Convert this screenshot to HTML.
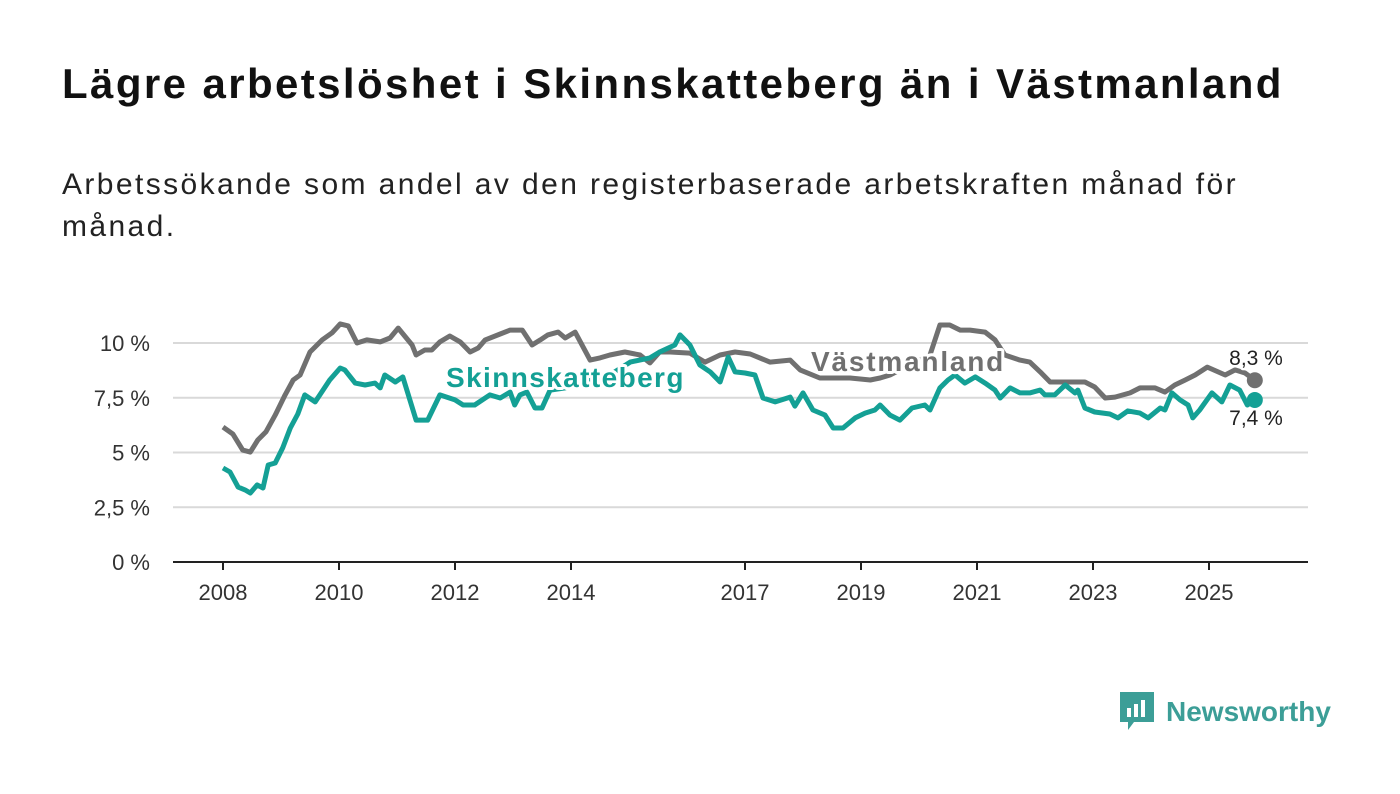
<!DOCTYPE html>
<html><head><meta charset="utf-8"><style>
body{margin:0;background:#fff;width:1400px;height:794px;overflow:hidden;font-family:"Liberation Sans","DejaVu Sans",sans-serif;}
h1{position:absolute;left:62px;top:60px;margin:0;font-size:42px;font-weight:bold;color:#111;letter-spacing:2.4px}
p{position:absolute;left:62px;top:164px;margin:0;font-size:30px;line-height:42px;color:#222;width:1240px;letter-spacing:2.4px}
</style></head><body>
<h1>Lägre arbetslöshet i Skinnskatteberg än i Västmanland</h1>
<p>Arbetssökande som andel av den registerbaserade arbetskraften månad för månad.</p>
<svg id="chart" width="1400" height="794" style="position:absolute;left:0;top:0"></svg>
<div style="position:absolute;left:1118px;top:690px;display:flex;align-items:center">
<svg width="38" height="44"><path d="M2 2h34v30H16l-6 8v-8H2z" fill="#3c9e97"/><rect x="9" y="18" width="4" height="9" fill="#fff"/><rect x="16" y="14" width="4" height="13" fill="#fff"/><rect x="23" y="10" width="4" height="17" fill="#fff"/></svg>
<span style="font-size:28px;font-weight:bold;color:#3c9e97;margin-left:10px">Newsworthy</span></div>
<script>
const yTicks=[0,2.5,5,7.5,10];
const yTickLabels=["0 %","2,5 %","5 %","7,5 %","10 %"];
const xTicks=[2008,2010,2012,2014,2017,2019,2021,2023,2025];
const vDates=[2008.00,2008.17,2008.34,2008.47,2008.60,2008.74,2008.90,2009.07,2009.21,2009.33,2009.50,2009.71,2009.88,2010.02,2010.16,2010.31,2010.48,2010.71,2010.88,2011.02,2011.26,2011.33,2011.48,2011.60,2011.74,2011.91,2012.09,2012.26,2012.40,2012.52,2012.78,2012.95,2013.16,2013.33,2013.47,2013.60,2013.78,2013.90,2014.07,2014.33,2014.50,2014.67,2014.93,2015.19,2015.36,2015.53,2015.71,2016.05,2016.31,2016.57,2016.83,2017.09,2017.43,2017.78,2017.95,2018.29,2018.81,2019.16,2019.33,2019.50,2019.84,2020.19,2020.36,2020.53,2020.71,2020.88,2021.14,2021.31,2021.48,2021.74,2021.91,2022.09,2022.26,2022.86,2023.03,2023.21,2023.38,2023.64,2023.81,2024.07,2024.24,2024.41,2024.59,2024.76,2024.97,2025.28,2025.45,2025.62,2025.79];
const vValues=[6.16,5.84,5.11,5.02,5.57,5.94,6.71,7.63,8.31,8.54,9.59,10.14,10.46,10.87,10.78,10.0,10.14,10.05,10.23,10.68,9.91,9.45,9.68,9.68,10.05,10.32,10.05,9.59,9.77,10.14,10.41,10.59,10.59,9.91,10.14,10.37,10.5,10.23,10.5,9.22,9.32,9.45,9.59,9.45,9.09,9.59,9.59,9.54,9.13,9.45,9.59,9.5,9.13,9.22,8.77,8.4,8.4,8.31,8.4,8.54,9.0,9.45,10.82,10.82,10.59,10.59,10.5,10.14,9.45,9.22,9.13,8.68,8.22,8.22,7.99,7.49,7.53,7.72,7.95,7.95,7.76,8.08,8.31,8.54,8.9,8.54,8.77,8.63,8.3];
const sDates=[2008.00,2008.12,2008.26,2008.38,2008.47,2008.59,2008.69,2008.78,2008.90,2009.03,2009.16,2009.29,2009.41,2009.59,2009.84,2010.02,2010.10,2010.28,2010.45,2010.62,2010.71,2010.79,2010.97,2011.10,2011.33,2011.53,2011.74,2012.00,2012.14,2012.34,2012.60,2012.78,2012.95,2013.03,2013.12,2013.24,2013.38,2013.50,2013.64,2013.90,2014.33,2014.67,2015.02,2015.36,2015.53,2015.79,2015.88,2016.05,2016.22,2016.40,2016.57,2016.71,2016.83,2017.00,2017.17,2017.31,2017.52,2017.78,2017.86,2018.00,2018.17,2018.38,2018.52,2018.69,2018.90,2019.07,2019.24,2019.33,2019.50,2019.67,2019.88,2020.10,2020.19,2020.36,2020.50,2020.62,2020.79,2020.97,2021.14,2021.31,2021.40,2021.57,2021.74,2021.91,2022.09,2022.17,2022.34,2022.52,2022.69,2022.74,2022.86,2023.03,2023.29,2023.43,2023.60,2023.81,2023.95,2024.16,2024.24,2024.36,2024.50,2024.64,2024.72,2024.84,2025.05,2025.22,2025.36,2025.53,2025.66,2025.79];
const sValues=[4.29,4.11,3.42,3.29,3.15,3.52,3.38,4.43,4.52,5.21,6.12,6.76,7.63,7.31,8.31,8.86,8.77,8.17,8.08,8.17,7.95,8.54,8.22,8.45,6.48,6.48,7.63,7.4,7.17,7.17,7.63,7.49,7.76,7.17,7.63,7.76,7.03,7.03,7.85,7.95,8.31,8.54,9.13,9.32,9.59,9.91,10.37,9.91,9.0,8.68,8.22,9.36,8.68,8.63,8.54,7.49,7.31,7.53,7.12,7.72,6.94,6.71,6.12,6.12,6.58,6.8,6.94,7.17,6.71,6.48,7.03,7.17,6.94,7.95,8.31,8.54,8.17,8.45,8.17,7.85,7.49,7.95,7.72,7.72,7.85,7.63,7.63,8.08,7.72,7.85,7.03,6.85,6.76,6.58,6.9,6.8,6.58,7.03,6.94,7.72,7.4,7.17,6.58,6.94,7.72,7.31,8.08,7.85,7.17,7.4];
const NS="http://www.w3.org/2000/svg";
const svg=document.getElementById('chart');
const X=d=>223+(d-2008)*58;
const Y=v=>562-v*21.9;
function el(t,a){const e=document.createElementNS(NS,t);for(const k in a)e.setAttribute(k,a[k]);svg.appendChild(e);return e;}
yTicks.forEach((t,i)=>{
 if(t>0){const g=el('line',{x1:173,x2:1308,y1:Y(t),y2:Y(t),stroke:'#d9d9d9','stroke-width':2});
 
 }
 const l=el('text',{x:150,y:Y(t)+8,'text-anchor':'end','font-size':22,fill:'#333'});l.textContent=yTickLabels[i];
 
 
});
const ax=el('line',{x1:173,x2:1308,y1:562,y2:562,stroke:'#222','stroke-width':2});


xTicks.forEach(t=>{
 const tk=el('line',{x1:X(t),x2:X(t),y1:562,y2:570,stroke:'#222','stroke-width':2});
 
 
 const l=el('text',{x:X(t),y:600,'text-anchor':'middle','font-size':22,fill:'#333'});l.textContent=t;
 
 
});
function line(d,v,c,name){
 const p=el('path',{d:d.map((x,i)=>(i?'L':'M')+X(x).toFixed(1)+' '+Y(v[i]).toFixed(1)).join(''),fill:'none',stroke:c,'stroke-width':5,'stroke-linejoin':'round'});
 
 
 const n=d.length-1;
 const dot=el('circle',{cx:X(d[n]),cy:Y(v[n]),r:8,fill:c});
 
 
}
line(vDates,vValues,'#707070','vastmanland-line');
line(sDates,sValues,'#14a095','skinnskatteberg-line');
function lab(x,y,t,c,name,fs,bold,anchor,ls){
 const e=el('text',{x:x,y:y,'font-size':fs,'font-weight':bold?'bold':'normal',fill:c,stroke:'#fff','stroke-width':bold?6:5,'paint-order':'stroke','stroke-linejoin':'round','text-anchor':anchor||'start','letter-spacing':ls||0});e.textContent=t;
 
 
}
lab(446,387,'Skinnskatteberg','#14a095','skinnskatteberg-label',28,true,'start',1.4);
lab(811,371,'Västmanland','#707070','vastmanland-label',28,true,'start',1.8);
lab(1256,365,'8,3 %','#222','vastmanland-end-value',21,false,'middle');
lab(1256,425,'7,4 %','#222','skinnskatteberg-end-value',21,false,'middle');
</script>
</body></html>
